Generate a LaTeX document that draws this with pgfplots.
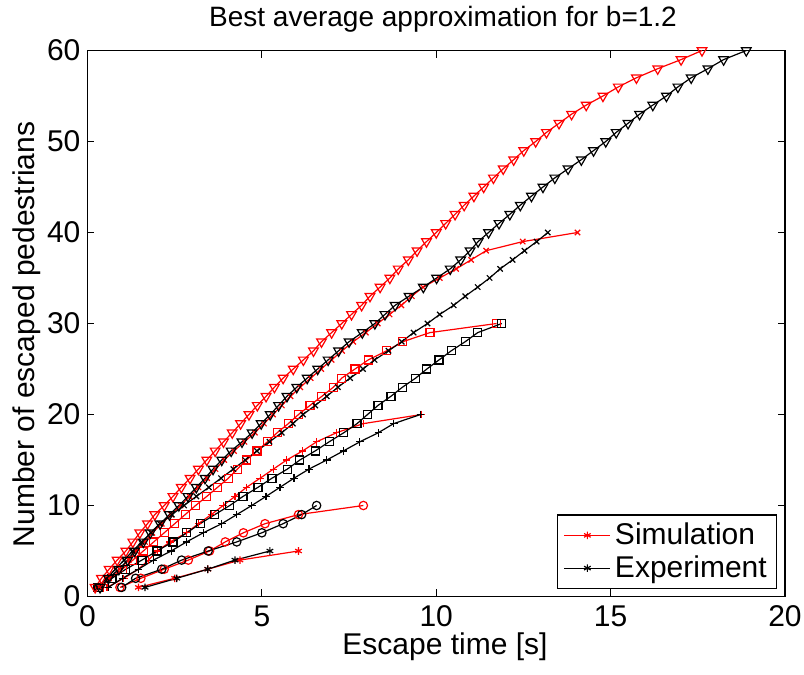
\documentclass[border=0pt]{standalone}
\usepackage{fontspec}
\setmainfont{Liberation Sans}
\usepackage{pgfplots}
\pgfplotsset{compat=1.18}

\begin{document}
\begin{tikzpicture}
% page size: axis box plus room for title, labels and tick labels
\useasboundingbox (-43.75pt,-39.15pt) rectangle (358.25pt,298.25pt);
\begin{axis}[
    scale only axis,
    width=348.75pt, height=273pt,
    at={(0,0)}, anchor=south west,
    xmin=0, xmax=20, ymin=0, ymax=60,
    xtick={0,5,10,15,20}, ytick={0,10,20,30,40,50,60},
    tick align=inside,
    major tick length=3.5pt,
    axis line style={line width=0.6pt},
    every tick/.style={black, line width=0.6pt},
    /pgf/number format/assume math mode=true,
    ticklabel style={font=\fontsize{15}{18}\selectfont},
    xticklabel style={yshift=-1pt},
    every axis title shift=0pt,
    title={Best average approximation for b=1.2},
    title style={font=\fontsize{14}{16}\selectfont, at={(axis description cs:0.5097,1.0434)}, anchor=base},
    xlabel={Escape time [s]},
    xlabel style={font=\fontsize{15}{18}\selectfont, at={(axis description cs:0.5125,-0.106)}, anchor=base},
    ylabel={Number of escaped pedestrians},
    ylabel style={font=\fontsize{15}{18}\selectfont, at={(axis description cs:-0.0867,0.48)}, anchor=center},
    every axis plot/.append style={line width=0.6pt},
    legend style={font=\fontsize{15}{18.3}\selectfont, at={(axis description cs:0.989,0.0136)},
        anchor=south east, draw=black, line width=0.6pt, inner xsep=3pt, inner ysep=2pt},
    legend cell align=left,
    legend image code/.code={\draw[mark repeat=2,mark phase=2] plot coordinates {(0cm,0cm) (0.405cm,0cm) (0.81cm,0cm)};},
]
% N = 5
\addplot[red, mark=asterisk, mark size=1.9pt, mark options={solid}] coordinates {
(1.46,1) (2.5,2) (3.45,3) (4.37,4) (6.05,5)};
\addlegendentry{Simulation}
\addplot[black, mark=asterisk, mark size=1.9pt, mark options={solid}] coordinates {
(1.65,1) (2.56,2) (3.45,3) (4.23,4) (5.23,5)};
\addlegendentry{Experiment}
% N = 10
\addplot[red, mark=o, mark size=2.1pt, forget plot] coordinates {
(0.93,1) (1.53,2) (2.2,3) (2.89,4) (3.5,5) (3.95,6) (4.47,7) (5.09,8) (6.05,9) (7.91,10)};
\addplot[black, mark=o, mark size=2.1pt, forget plot] coordinates {
(0.98,1) (1.38,2) (2.13,3) (2.7,4) (3.46,5) (4.28,6) (5.0,7) (5.61,8) (6.14,9) (6.57,10)};
% N = 20
\addplot[red, mark=+, mark size=1.9pt, forget plot] coordinates {
(0.56,1) (1.04,2) (1.46,3) (1.75,4) (2.0,5) (2.37,6) (2.84,7) (3.18,8) (3.55,9) (3.89,10)
(4.23,11) (4.56,12) (4.95,13) (5.33,14) (5.71,15) (6.17,16) (6.57,17) (7.14,18) (7.91,19) (9.58,20)};
\addplot[black, mark=+, mark size=1.9pt, forget plot] coordinates {
(0.6,1) (1.0,2) (1.46,3) (1.89,4) (2.4,5) (2.84,6) (3.32,7) (3.85,8) (4.28,9) (4.71,10)
(5.12,11) (5.52,12) (5.92,13) (6.35,14) (6.86,15) (7.34,16) (7.81,17) (8.34,18) (8.78,19) (9.55,20)};
% N = 30
\addplot[red, mark=square, mark size=2pt, forget plot] coordinates {
(0.35,1) (0.68,2) (1.0,3) (1.3,4) (1.6,5) (1.9,6) (2.2,7) (2.5,8) (2.8,9) (3.1,10)
(3.42,11) (3.73,12) (4.04,13) (4.3,14) (4.56,15) (4.86,16) (5.16,17) (5.44,18) (5.76,19) (6.05,20)
(6.38,21) (6.72,22) (7.05,23) (7.29,24) (7.67,25) (8.05,26) (8.58,27) (9.04,28) (9.82,29) (11.73,30)};
\addplot[black, mark=square, mark size=2pt, forget plot] coordinates {
(0.3,1) (0.7,2) (1.1,3) (1.56,4) (1.99,5) (2.45,6) (2.85,7) (3.23,8) (3.65,9) (4.08,10)
(4.46,11) (4.89,12) (5.29,13) (5.73,14) (6.09,15) (6.53,16) (6.93,17) (7.35,18) (7.73,19) (8.03,20)
(8.33,21) (8.7,22) (9.03,23) (9.41,24) (9.73,25) (10.08,26) (10.43,27) (10.83,28) (11.19,29) (11.88,30)};
% N = 40
\addplot[red, mark=x, mark size=1.9pt, forget plot] coordinates {
(0.35,1) (0.62,2) (0.92,3) (1.18,4) (1.4,5) (1.65,6) (1.86,7) (2.13,8) (2.4,9) (2.67,10)
(2.93,11) (3.18,12) (3.43,13) (3.67,14) (3.92,15) (4.2,16) (4.5,17) (4.8,18) (5.06,19) (5.32,20)
(5.57,21) (5.82,22) (6.1,23) (6.4,24) (6.7,25) (7.0,26) (7.3,27) (7.62,28) (7.98,29) (8.32,30)
(8.66,31) (9.0,32) (9.3,33) (9.62,34) (10.1,35) (10.57,36) (11.0,37) (11.43,38) (12.48,39) (14.05,40)};
\addplot[black, mark=x, mark size=1.9pt, forget plot] coordinates {
(0.3,1) (0.55,2) (0.8,3) (1.05,4) (1.3,5) (1.55,6) (1.82,7) (2.08,8) (2.42,9) (2.77,10)
(3.12,11) (3.48,12) (3.83,13) (4.18,14) (4.52,15) (4.86,16) (5.22,17) (5.57,18) (5.89,19) (6.18,20)
(6.53,21) (6.86,22) (7.18,23) (7.53,24) (7.9,25) (8.23,26) (8.63,27) (9.01,28) (9.35,29) (9.75,30)
(10.1,31) (10.5,32) (10.83,33) (11.19,34) (11.53,35) (11.83,36) (12.19,37) (12.53,38) (12.88,39) (13.2,40)};
% N = 60
\addplot[red, mark=triangle, mark size=2.8pt, mark options={rotate=180}, forget plot] coordinates {
(0.22,1) (0.4,2) (0.62,3) (0.85,4) (1.1,5) (1.3,6) (1.5,7) (1.72,8) (1.93,9) (2.2,10)
(2.45,11) (2.69,12) (2.94,13) (3.18,14) (3.42,15) (3.66,16) (3.9,17) (4.15,18) (4.39,19) (4.63,20)
(4.87,21) (5.12,22) (5.36,23) (5.61,24) (5.9,25) (6.19,26) (6.48,27) (6.71,28) (7.0,29) (7.29,30)
(7.57,31) (7.86,32) (8.1,33) (8.39,34) (8.67,35) (8.91,36) (9.2,37) (9.45,38) (9.72,39) (10.0,40)
(10.27,41) (10.54,42) (10.8,43) (11.08,44) (11.36,45) (11.64,46) (11.92,47) (12.22,48) (12.51,49) (12.85,50)
(13.16,51) (13.52,52) (13.88,53) (14.3,54) (14.78,55) (15.22,56) (15.74,57) (16.35,58) (17.02,59) (17.62,60)};
\addplot[black, mark=triangle, mark size=2.8pt, mark options={rotate=180}, forget plot] coordinates {
(0.36,1) (0.6,2) (0.9,3) (1.15,4) (1.35,5) (1.6,6) (1.8,7) (2.08,8) (2.35,9) (2.62,10)
(2.88,11) (3.12,12) (3.37,13) (3.6,14) (3.85,15) (4.12,16) (4.43,17) (4.72,18) (4.98,19) (5.24,20)
(5.48,21) (5.72,22) (6.0,23) (6.3,24) (6.6,25) (6.9,26) (7.2,27) (7.5,28) (7.88,29) (8.24,30)
(8.53,31) (8.82,32) (9.22,33) (9.63,34) (10.01,35) (10.4,36) (10.7,37) (10.97,38) (11.2,39) (11.5,40)
(11.8,41) (12.11,42) (12.41,43) (12.73,44) (13.06,45) (13.4,46) (13.78,47) (14.16,48) (14.51,49) (14.86,50)
(15.16,51) (15.5,52) (15.83,53) (16.21,54) (16.6,55) (16.93,56) (17.31,57) (17.79,58) (18.24,59) (18.89,60)};
\end{axis}
\end{tikzpicture}
\end{document}
